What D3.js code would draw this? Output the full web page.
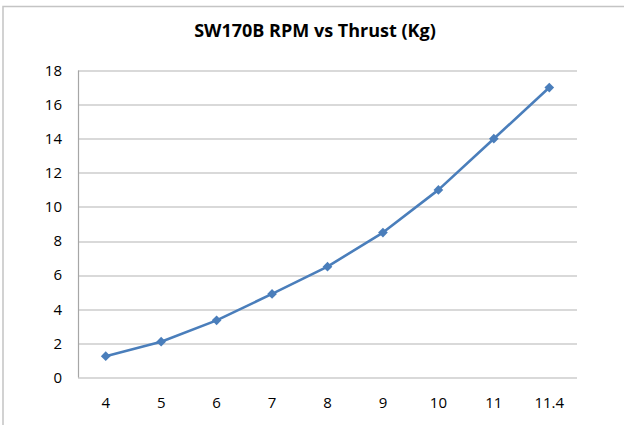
<!DOCTYPE html>
<html>
<head>
<meta charset="utf-8">
<script src="https://cdn.jsdelivr.net/npm/d3@7"></script>
<style>
  body { margin: 0; background: #fff; }
  text { font-family: "Open Sans", "Liberation Sans", sans-serif; fill: #000; }
</style>
</head>
<body>
<script>
// RPM (thousands) and thrust readings
const rpm = ["4", "5", "6", "7", "8", "9", "10", "11", "11.4"];
const thrust = [1.25, 2.1, 3.35, 4.9, 6.5, 8.5, 11, 14, 17];
const yTicks = [0, 2, 4, 6, 8, 10, 12, 14, 16, 18];
const chartTitle = "SW170B RPM vs Thrust (Kg)";

const baseWidth = 624,
  baseHeight = 425;
const margin = { top: 70.5, right: 47, bottom: 47.5, left: 78 };
const width = baseWidth - margin.left - margin.right;
const height = baseHeight - margin.top - margin.bottom;
const lineColor = "#4A7EBB";

const svg = d3
  .select("body")
  .append("svg")
  .attr("width", baseWidth)
  .attr("height", baseHeight);

// chart frame (runs off the right and bottom edges)
svg
  .append("rect")
  .attr("x", 3)
  .attr("y", 6.5)
  .attr("width", baseWidth + 10)
  .attr("height", baseHeight + 10)
  .attr("fill", "none")
  .attr("stroke", "#c4c4c4")
  .attr("stroke-width", 1.5);

svg
  .append("text")
  .attr("x", 315)
  .attr("y", 37)
  .attr("text-anchor", "middle")
  .style("font-size", "18px")
  .style("font-weight", "bold")
  .text(chartTitle);

const chart = svg
  .append("g")
  .attr("transform", "translate(" + margin.left + "," + margin.top + ")");

const x = d3.scaleBand().domain(rpm).range([0, width]),
  y = d3.scaleLinear().domain([0, 18]).range([height, 0]);

// gridlines
chart
  .selectAll(".grid")
  .data(yTicks)
  .enter()
  .append("line")
  .attr("x1", 0)
  .attr("x2", width)
  .attr("y1", (d) => Math.round(y(d)) + 0.5)
  .attr("y2", (d) => Math.round(y(d)) + 0.5)
  .attr("stroke", "#b3b3b3")
  .attr("stroke-width", 1.2);

chart
  .append("line")
  .attr("x1", 0.5)
  .attr("x2", 0.5)
  .attr("y1", 0)
  .attr("y2", height)
  .attr("stroke", "#a6a6a6")
  .attr("stroke-width", 1.2);

const yAxis = d3.axisLeft(y).tickValues(yTicks).tickSize(0).tickPadding(16);
chart
  .append("g")
  .call(yAxis)
  .call((g) => g.select(".domain").remove())
  .selectAll("text")
  .style("font-size", "15px");

const xAxis = d3.axisBottom(x).tickSize(0).tickPadding(20);
chart
  .append("g")
  .attr("transform", "translate(0," + height + ")")
  .call(xAxis)
  .call((g) => g.select(".domain").remove())
  .selectAll("text")
  .style("font-size", "15px");

const pts = rpm.map((r, i) => [x(r) + x.bandwidth() / 2, y(thrust[i])]);

chart
  .append("path")
  .attr("d", d3.line()(pts))
  .attr("fill", "none")
  .attr("stroke", lineColor)
  .attr("stroke-width", 2.6)
  .attr("stroke-linejoin", "round");

chart
  .selectAll(".marker")
  .data(pts)
  .enter()
  .append("path")
  .attr("transform", (d) => "translate(" + d[0] + "," + d[1] + ")")
  .attr("d", d3.symbol(d3.symbolDiamond2, 60))
  .attr("fill", lineColor);
</script>
</body>
</html>
